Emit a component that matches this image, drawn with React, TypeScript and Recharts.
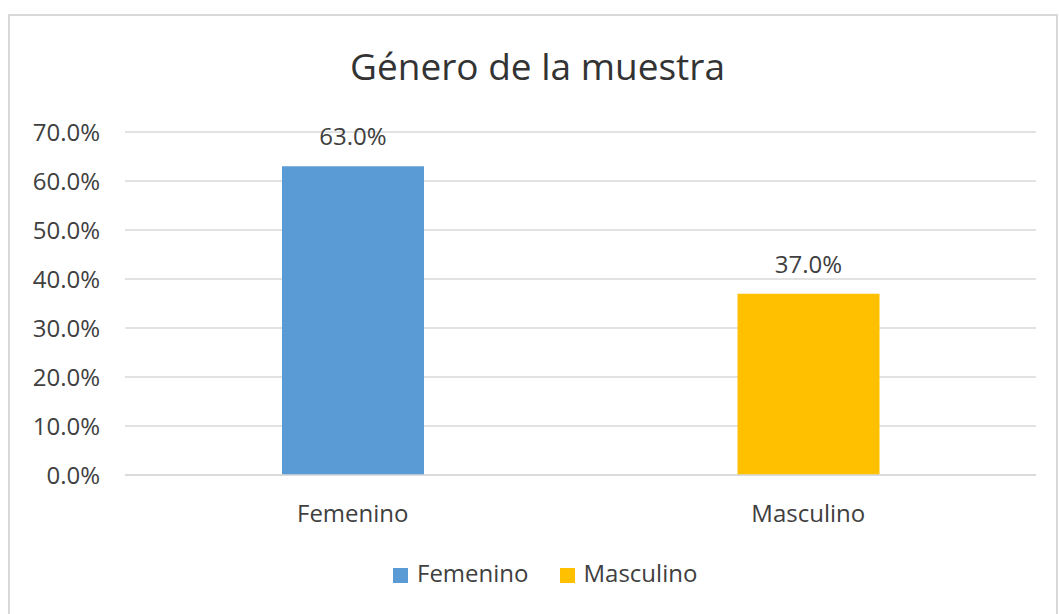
import React from 'react';
import { BarChart, Bar, XAxis, YAxis, CartesianGrid, LabelList, Cell, Legend } from 'recharts';

const title = 'Género de la muestra';
const categories = ['Femenino', 'Masculino'];
const values = [63.0, 37.0];
const colors = ['#5B9BD5', '#FFC000'];
const yTicks = [0, 10, 20, 30, 40, 50, 60, 70];

const data = categories.map((name, i) => ({ name, value: values[i] }));

const FONT = "'Open Sans', sans-serif";
const TEXT = '#404040';
const GRID = '#d9d9d9';

const fmt = (v: any) => (v == null ? '' : `${Number(v).toFixed(1)}%`);

const LegendContent = () => (
  <div style={{ display: 'flex', alignItems: 'center', fontFamily: FONT, fontSize: 24, lineHeight: '24px', color: TEXT }}>
    {categories.map((c, i) => (
      <div key={c} style={{ display: 'flex', alignItems: 'center', marginRight: i === 0 ? 31 : 0 }}>
        <span style={{ display: 'inline-block', width: 15, height: 15, background: colors[i], marginRight: 9, marginTop: 5 }} />
        <span>{c}</span>
      </div>
    ))}
  </div>
);

export default function App() {
  return (
    <div
      style={{
        position: 'absolute',
        left: 8,
        top: 14,
        width: 1050,
        height: 600,
        border: `2px solid ${GRID}`,
        borderBottom: 'none',
        boxSizing: 'border-box',
        background: '#fff',
        overflow: 'hidden',
      }}
    >
      <div
        style={{
          position: 'absolute',
          left: 0,
          top: 31,
          width: 1055,
          textAlign: 'center',
          fontFamily: FONT,
          fontSize: 37,
          lineHeight: '37px',
          color: '#333',
        }}
      >
        {title}
      </div>
      <BarChart width={1046} height={598} data={data} margin={{ top: 116, right: 20, bottom: 109, left: 0 }}>
        <CartesianGrid vertical={false} stroke={GRID} strokeWidth={1.5} />
        <XAxis
          dataKey="name"
          height={30}
          axisLine={{ stroke: GRID, strokeWidth: 1.5 }}
          tickLine={false}
          tickSize={0}
          tickMargin={30}
          tick={{ fill: TEXT, fontSize: 24, fontFamily: FONT }}
        />
        <YAxis
          width={115}
          domain={[0, 70]}
          ticks={yTicks}
          tickFormatter={fmt}
          axisLine={false}
          tickLine={false}
          tickSize={0}
          tickMargin={25}
          tick={{ fill: TEXT, fontSize: 24, fontFamily: FONT }}
        />
        <Legend
          layout="horizontal"
          verticalAlign="middle"
          align="center"
          content={() => <LegendContent />}
          wrapperStyle={{ position: 'absolute', top: 545, left: 383, width: 'auto' }}
        />
        <Bar dataKey="value" barSize={142} isAnimationActive={false}>
          {data.map((d, i) => (
            <Cell key={d.name} fill={colors[i]} />
          ))}
          <LabelList dataKey="value" position="top" offset={21} formatter={fmt} fill={TEXT} fontSize={24} fontFamily={FONT} />
        </Bar>
      </BarChart>
    </div>
  );
}
